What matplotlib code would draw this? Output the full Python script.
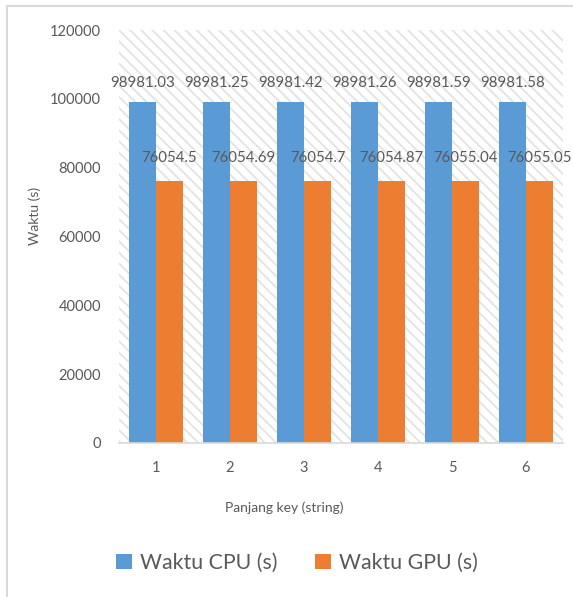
import matplotlib.pyplot as plt
import matplotlib.patches as mpatches
import numpy as np

plt.rcParams['font.family'] = ['Lato', 'DejaVu Sans']
plt.rcParams['hatch.linewidth'] = 1.3

categories = ['1', '2', '3', '4', '5', '6']
cpu = [98981.03, 98981.25, 98981.42, 98981.26, 98981.59, 98981.58]
gpu = [76054.5, 76054.69, 76054.7, 76054.87, 76055.04, 76055.05]
cpu_labels = ['98981.03', '98981.25', '98981.42', '98981.26', '98981.59', '98981.58']
gpu_labels = ['76054.5', '76054.69', '76054.7', '76054.87', '76055.04', '76055.05']
yticks = [0, 20000, 40000, 60000, 80000, 100000, 120000]

blue = '#5B9BD5'
orange = '#ED7D31'
txt = '#595959'

fig = plt.figure(figsize=(5.73, 5.97), dpi=100)
# outer chart border (light gray)
fig.patches.append(mpatches.Rectangle((7/573, -0.01), 1.0, 1 - 6/597 + 0.01,
                                      transform=fig.transFigure, fill=False,
                                      edgecolor='#D9D9D9', linewidth=1.5))

ax = fig.add_axes([119/573, 1 - 443/597, 444/573, 413/597])
ax.set_facecolor('white')
ax.add_patch(mpatches.Rectangle((0, 0), 1, 1, transform=ax.transAxes,
                                facecolor='white', edgecolor='#E3E3E3',
                                hatch='\\\\\\', linewidth=0, zorder=0))

x = np.arange(len(categories))
w = 0.365
b1 = ax.bar(x - w/2, cpu, w, color=blue, label='Waktu CPU (s)', zorder=2)
b2 = ax.bar(x + w/2, gpu, w, color=orange, label='Waktu GPU (s)', zorder=2)
ax.bar_label(b1, labels=cpu_labels, padding=9, fontsize=10.8, color=txt)
ax.bar_label(b2, labels=gpu_labels, padding=12, fontsize=10.8, color=txt)

ax.set_xlim(-0.5, len(categories) - 0.5)
ax.set_ylim(0, 120000)
ax.set_xticks(x)
ax.set_xticklabels(categories)
ax.set_yticks(yticks)
ax.tick_params(axis='both', length=0, labelsize=10.5, labelcolor=txt)
ax.tick_params(axis='x', pad=13)
ax.tick_params(axis='y', pad=13)
for s in ['top', 'right', 'left']:
    ax.spines[s].set_visible(False)
ax.spines['bottom'].set_color('#D9D9D9')
ax.spines['bottom'].set_linewidth(1.2)

ax.set_ylabel('Waktu (s)', fontsize=10, color=txt)
ax.yaxis.set_label_coords(-0.175, 0.55)
ax.set_xlabel('Panjang key (string)', fontsize=10, color=txt)
ax.xaxis.set_label_coords(0.373, -0.142)

fig.legend(handles=[b1, b2], loc='center', bbox_to_anchor=(0.518, 1 - 563/597),
           ncol=2, frameon=False, fontsize=15.3, labelcolor=txt,
           handlelength=0.75, handleheight=0.75, handletextpad=0.35,
           columnspacing=1.8)

fig.savefig('out.png', dpi=100)
